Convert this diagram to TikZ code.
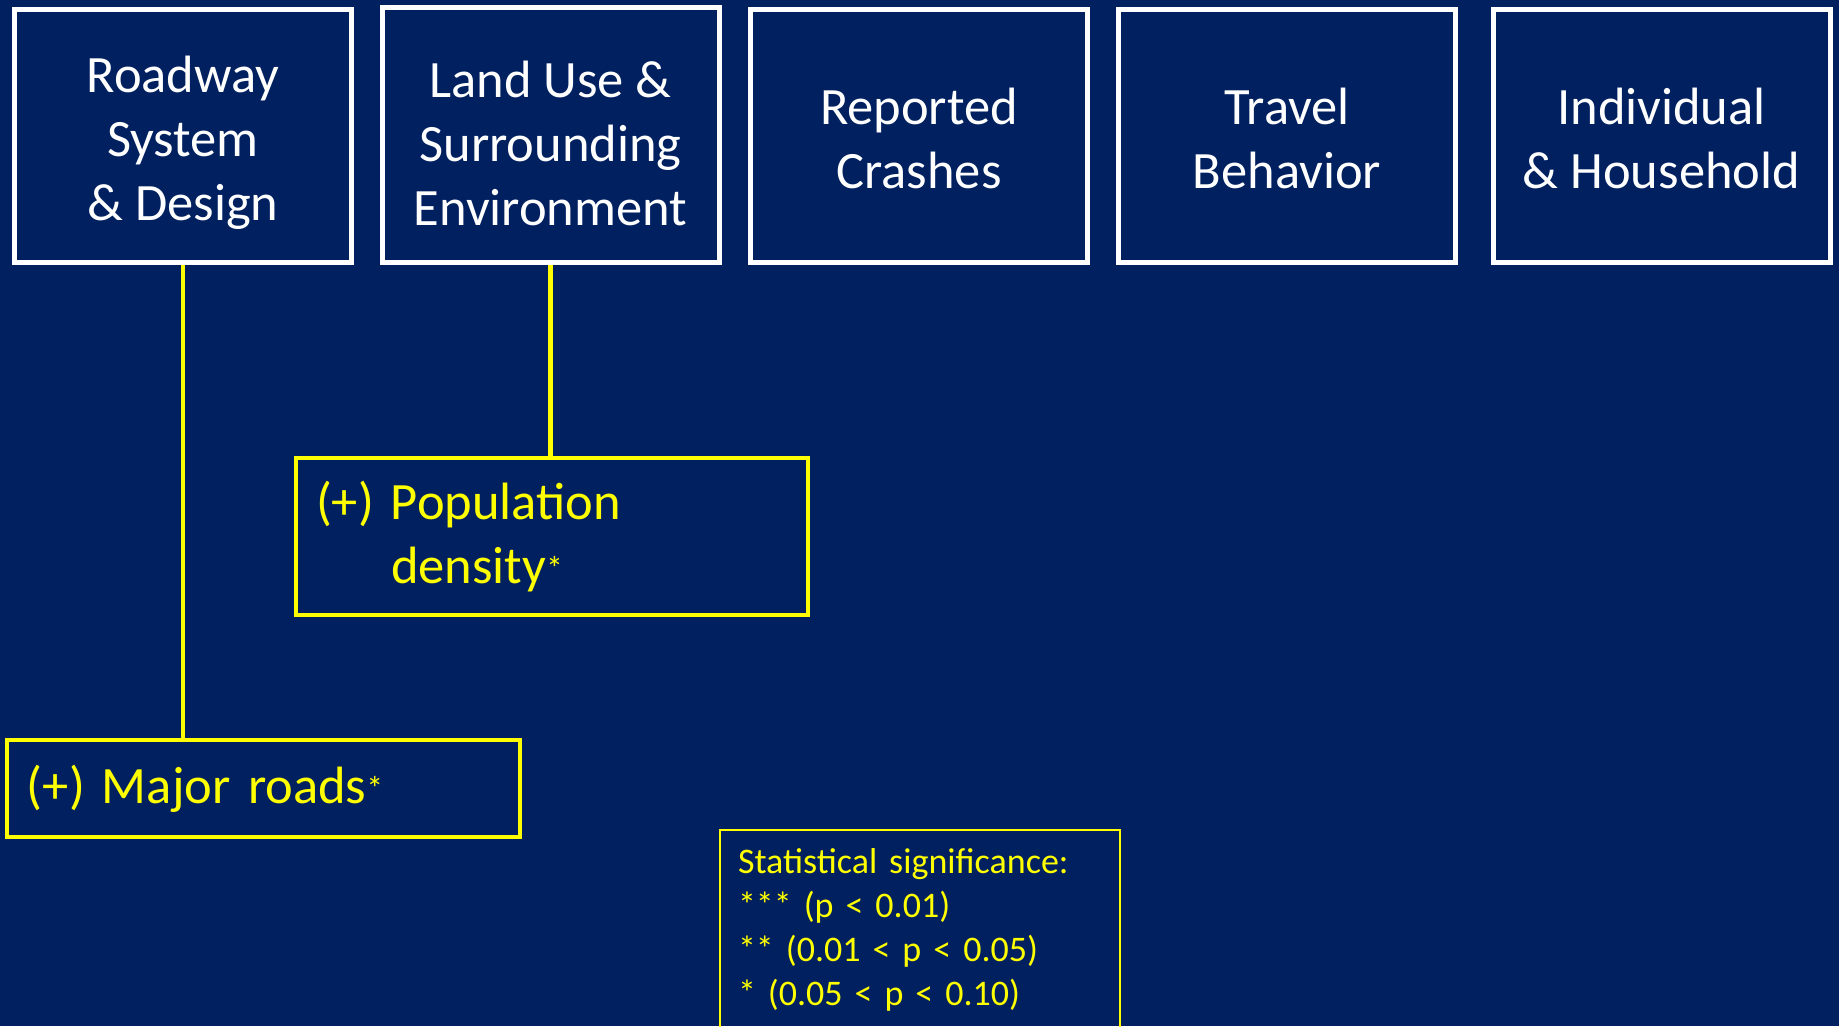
\documentclass[tikz,border=0pt]{standalone}
\usepackage{fontspec}
\setmainfont{Carlito}
\definecolor{navy}{HTML}{002060}
\definecolor{hiyellow}{HTML}{FFFF00}
\tikzset{
  factorbox/.style={draw=white, line width=5pt, minimum width=337pt,
    minimum height=253pt, inner sep=0pt},
  factortext/.style={text=white, align=center, inner sep=0pt,
    font=\fontsize{52.5}{64}\selectfont},
  effectbox/.style={draw=hiyellow, line width=4.5pt, text=hiyellow, align=left,
    inner xsep=20pt, inner ysep=0pt, font=\fontsize{52.5}{64}\selectfont},
  link/.style={draw=hiyellow, line width=4.5pt},
  legendbox/.style={draw=hiyellow, line width=2pt, text=hiyellow, align=left,
    anchor=north west, inner xsep=18pt, inner ysep=18.5pt, text width=364pt,
    font=\fontsize{36}{44}\selectfont}
}
\newcommand{\sigstar}{\raisebox{3pt}{\fontsize{34}{34}\selectfont *}}
\newcommand{\plustag}{\makebox[75pt][l]{(+)}}
\begin{document}
\begin{tikzpicture}[x=1pt,y=-1pt]
  \fill[navy] (0,0) rectangle (1839,1026);
  \clip (0,0) rectangle (1839,1026);

  % factor categories
  \node[factorbox] (road)   at (183,135.5)   {};
  \node[factorbox, minimum height=255pt] (land) at (550.5,134.5) {};
  \node[factorbox] (crash)  at (919,135.5)   {};
  \node[factorbox] (travel) at (1287,135.5)  {};
  \node[factorbox] (indiv)  at (1661.5,135.5){};

  \node[factortext] (road-t)   at ([yshift=-7pt]road.center)   {Roadway\\System\\\& Design};
  \node[factortext] (land-t)   at ([yshift=-9pt]land.center)   {Land Use \&\\Surrounding\\Environment};
  \node[factortext] (crash-t)  at ([yshift=-3pt]crash.center)  {Reported\\Crashes};
  \node[factortext] (travel-t) at ([yshift=-3pt]travel.center) {Travel\\Behavior};
  \node[factortext] (indiv-t)  at ([yshift=-3pt]indiv.center)  {Individual\\\& Household};

  % significant effects
  \node[effectbox, text width=472pt, minimum height=157pt] (pop) at (552,536.5)
    {\plustag Population\\\hspace*{75pt}density\sigstar};
  \node[effectbox, text width=473pt, minimum height=97pt] (major) at (263.5,788.5)
    {\plustag Major roads\sigstar};

  \draw[link] (road.south) -- (road.south |- major.north);
  \draw[link] (land.south) -- (land.south |- pop.north);

  % legend
  \node[legendbox] (legend) at (719,829)
    {Statistical significance:\\{}*** (p < 0.01)\\{}** (0.01 < p < 0.05)\\{}* (0.05 < p < 0.10)};
\end{tikzpicture}
\end{document}
